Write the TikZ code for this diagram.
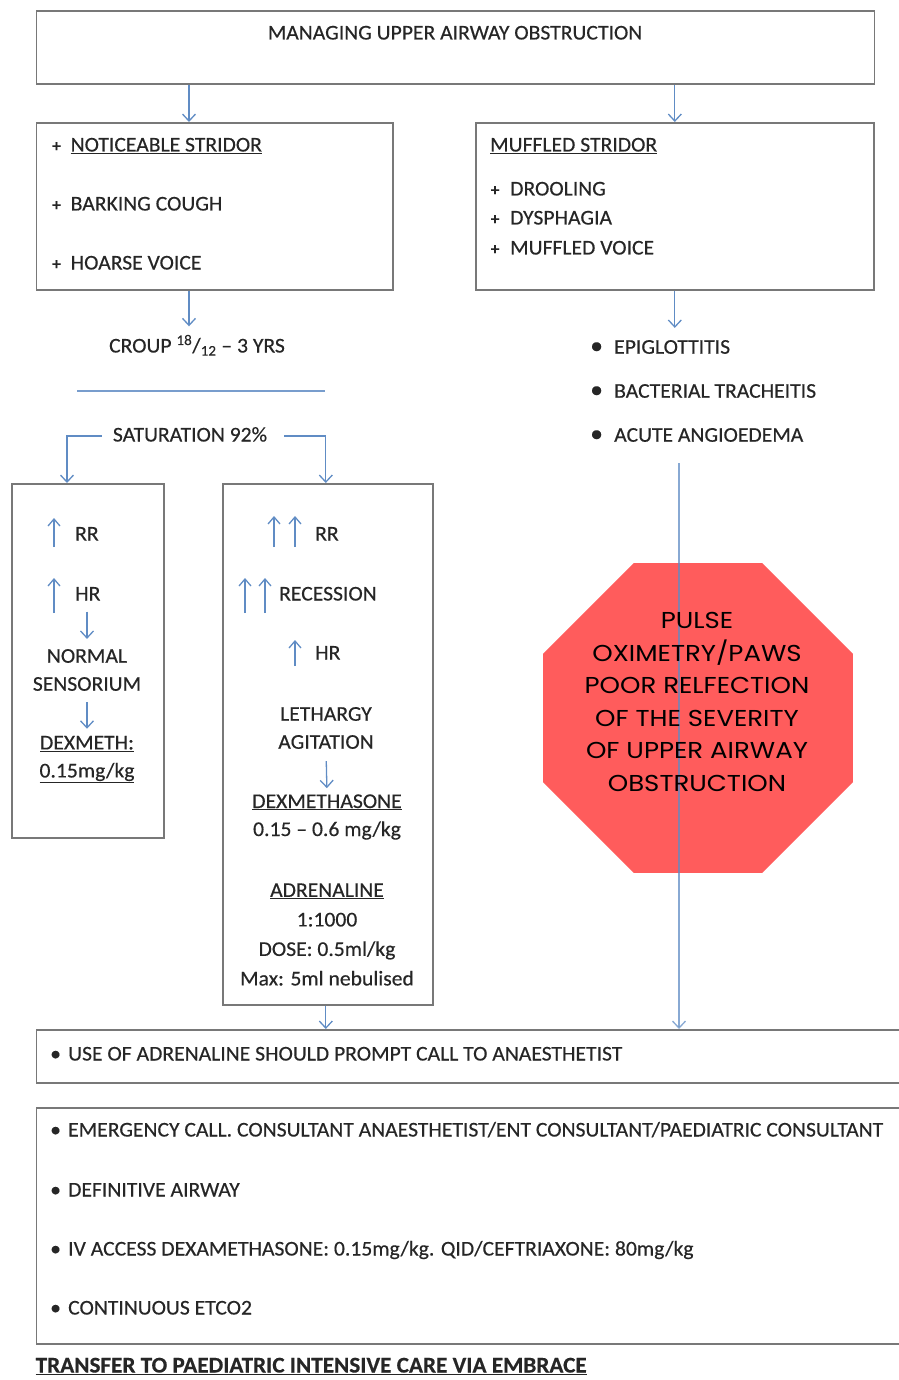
\documentclass[tikz,border=0pt]{standalone}
\usepackage{fontspec}
\setmainfont{Carlito}[FakeBold=0.4, FakeStretch=1.03]
\newfontfamily\stopfont{Poppins}[FakeStretch=1.13]
\usetikzlibrary{arrows.meta,shapes.geometric}

\definecolor{arrowblue}{RGB}{96,140,196}
\definecolor{boxgray}{RGB}{120,120,120}
\definecolor{stopred}{RGB}{255,92,92}
\definecolor{inkgray}{RGB}{38,38,38}

\newcommand{\plusmark}[1][18.5pt]{\makebox[#1][l]{\fontsize{17}{17}\selectfont\bfseries +}}
\newcommand{\smalldot}{\makebox[18pt][l]{\textbullet}}
\newcommand{\bigdot}{\makebox[24pt][l]{\fontsize{25}{25}\selectfont\textbullet}}

\tikzset{
  box/.style={draw=boxgray, line width=1.6pt, anchor=north west, inner sep=0pt},
  txt/.style={font=\fontsize{21}{25}\selectfont, text=inkgray, inner sep=0pt,
    text height=15pt, text depth=4pt},
  para/.style={font=\fontsize{21}{28}\selectfont, text=inkgray, inner sep=0pt, align=center},
  arr/.style={draw=arrowblue, line width=1.3pt, -{Straight Barb[length=7pt,width=13pt]}},
  uparr/.style={draw=arrowblue, line width=1.3pt, -{Straight Barb[length=7pt,width=12pt]}},
  sepline/.style={draw=arrowblue!85, line width=2.6pt},
  stopsign/.style={regular polygon, regular polygon sides=8, minimum size=335.5pt,
    fill=stopred, inner sep=0pt},
}

\begin{document}
\begin{tikzpicture}[x=1pt,y=-1pt]
  \useasboundingbox (0,0) rectangle (898,1380);
  % Title
  \node[box, minimum width=838pt, minimum height=73pt] (title) at (35.5,10) {};
  \node[txt] (titletext) at (455,34) {MANAGING UPPER AIRWAY OBSTRUCTION};
  % Symptom boxes
  \node[box, minimum width=356.5pt, minimum height=167pt] (croupbox) at (35.5,122) {};
  \node[box, minimum width=398pt, minimum height=167pt] (muffbox) at (475,122) {};
  \draw[arr] ([xshift=153.5pt]title.south west) -- ([xshift=153.5pt]croupbox.north west);
  \draw[arr] (title.south -| muffbox.north) -- (muffbox.north);
  \node[txt, anchor=west] (stridor) at (52,146) {\plusmark\underline{NOTICEABLE STRIDOR}};
  \node[txt, anchor=west] (cough) at (52,205) {\plusmark BARKING COUGH};
  \node[txt, anchor=west] (hoarse) at (52,264) {\plusmark HOARSE VOICE};
  \node[txt, anchor=west] (muffled) at (490,146) {\underline{MUFFLED STRIDOR}};
  \node[txt, anchor=west] (drool) at (490.5,190) {\plusmark[19.5pt]DROOLING};
  \node[txt, anchor=west] (dysph) at (490.5,219) {\plusmark[19.5pt]DYSPHAGIA};
  \node[txt, anchor=west] (voice) at (490.5,249) {\plusmark[19.5pt]MUFFLED VOICE};
  % Croup branch
  \node[txt] (croup) at (197,347) {CROUP \textsuperscript{18}/\textsubscript{12} -- 3 YRS};
  \draw[arr, shorten >=11pt] ([xshift=153.5pt]croupbox.south west)
    -- ([xshift=153.5pt]croupbox.south west |- croup.north);
  \draw[sepline] (77,391) -- (325,391);
  \node[txt] (sat) at (190,436) {SATURATION 92\%};
  \node[box, minimum width=152pt, minimum height=354pt] (mildbox) at (11,483) {};
  \node[box, minimum width=210pt, minimum height=521pt] (sevbox) at (222,483) {};
  \draw[arr] ([xshift=-11pt]sat.west) -| ([xshift=56pt]mildbox.north west);
  \draw[arr] ([xshift=17pt]sat.east) -| ([xshift=-2pt]sevbox.north);
  % Mild column
  \draw[uparr] (54,547) -- (54,518);
  \node[txt, anchor=west] (mildrr) at (75,535) {RR};
  \draw[uparr] (54,613) -- (54,578);
  \node[txt, anchor=west] (mildhr) at (75,595) {HR};
  \node[para] (sensor) at (87,670) {NORMAL\\SENSORIUM};
  \node[para] (dexmeth) at (87,759.5) {\underline{DEXMETH:}\\\underline{0.15mg/kg}};
  \draw[arr, shorten <=7pt, shorten >=10pt] (mildhr.south -| sensor.north) -- (sensor.north);
  \draw[arr, shorten <=11pt, shorten >=7pt] (sensor.south) -- (dexmeth.north);
  % Severe column
  \draw[uparr] (274,547) -- (274,516);
  \draw[uparr] (295,547) -- (295,516);
  \node[txt, anchor=west] (sevrr) at (315,535) {RR};
  \draw[uparr] (245,613) -- (245,578);
  \draw[uparr] (265,613) -- (265,578);
  \node[txt, anchor=west] (recess) at (279,595) {RECESSION};
  \draw[uparr] (295,666) -- (295,640);
  \node[txt, anchor=west] (sevhr) at (315,654) {HR};
  \node[para] (lethargy) at (326,728) {LETHARGY\\AGITATION};
  \node[para] (dexa) at (327,817) {\underline{DEXMETHASONE}\\0.15 -- 0.6 mg/kg};
  \draw[arr, shorten <=12pt, shorten >=6pt] (lethargy.south) -- (dexa.north);
  \node[para, font=\fontsize{21}{29.5}\selectfont] (adren) at (327,934.5)
    {\underline{ADRENALINE}\\1:1000\\DOSE: 0.5ml/kg\\Max: 5ml nebulised};
  % Muffled branch
  \node[para, font=\fontsize{21}{44}\selectfont, align=left, anchor=west] (diffs) at (590,391)
    {\bigdot EPIGLOTTITIS\\\bigdot BACTERIAL TRACHEITIS\\\bigdot ACUTE ANGIOEDEMA};
  \draw[arr, shorten >=12pt] (muffbox.south) -- (muffbox.south |- diffs.north);
  \coordinate (vtop) at (679,463);
  \node[stopsign] (stop) at (698,718) {};
  % Bottom boxes
  \node[box, minimum width=900pt, minimum height=53pt] (usebox) at (35.5,1029) {};
  \node[txt, anchor=west] (usetext) at (50,1055)
    {\smalldot USE OF ADRENALINE SHOULD PROMPT CALL TO ANAESTHETIST};
  \draw[arr, draw opacity=0.75] (vtop) -- (vtop |- usebox.north);
  \draw[arr] ([xshift=-2pt]sevbox.south) -- ([xshift=-2pt]sevbox.south |- usebox.north);
  \node[font=\stopfont\fontsize{23}{32.5}\selectfont, align=center, inner sep=0pt] (stoptext)
    at (697,702) {PULSE\\OXIMETRY/PAWS\\POOR RELFECTION\\OF THE SEVERITY\\OF UPPER AIRWAY\\OBSTRUCTION};
  \node[box, minimum width=900pt, minimum height=236pt] (emergbox) at (35.5,1107) {};
  \node[txt, anchor=west] (emerg) at (50,1131)
    {\smalldot EMERGENCY CALL. CONSULTANT ANAESTHETIST/ENT CONSULTANT/PAEDIATRIC CONSULTANT};
  \node[txt, anchor=west] (airway) at (50,1191) {\smalldot DEFINITIVE AIRWAY};
  \node[txt, anchor=west] (ivaccess) at (50,1250)
    {\smalldot IV ACCESS DEXAMETHASONE: 0.15mg/kg. QID/CEFTRIAXONE: 80mg/kg};
  \node[txt, anchor=west] (etco) at (50,1309) {\smalldot CONTINUOUS ETCO2};
  \node[txt, anchor=west, font=\bfseries\fontsize{22.5}{25}\selectfont] (transfer) at (35.5,1367)
    {\underline{TRANSFER TO PAEDIATRIC INTENSIVE CARE VIA EMBRACE}};
\end{tikzpicture}
\end{document}
